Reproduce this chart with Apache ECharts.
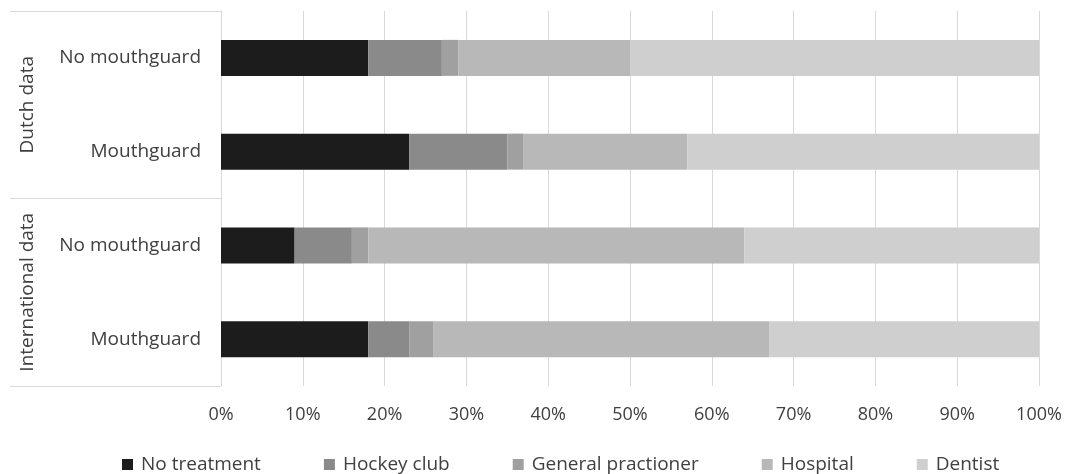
<!DOCTYPE html>
<html>
<head>
<meta charset="utf-8">
<script src="https://cdn.jsdelivr.net/npm/echarts@6/dist/echarts.min.js"></script>
<style>
  html, body { margin: 0; padding: 0; background: #fff; }
  #chart { width: 1068px; height: 474px; }
</style>
</head>
<body>
<div id="chart"></div>
<script>
// Rows, top to bottom
const categories = ['No mouthguard', 'Mouthguard', 'No mouthguard', 'Mouthguard'];
const groups = ['Dutch data', 'International data'];

// Share of injuries per place of first treatment (%)
const noTreatment = [18, 23, 9, 18];
const hockeyClub = [9, 12, 7, 5];
const generalPractioner = [2, 2, 2, 3];
const hospital = [21, 20, 46, 41];
const dentist = [50, 43, 36, 33];

const seriesNames = ['No treatment', 'Hockey club', 'General practioner', 'Hospital', 'Dentist'];
const seriesValues = [noTreatment, hockeyClub, generalPractioner, hospital, dentist];
const seriesColors = ['#1c1c1c', '#8a8a8a', '#a0a0a0', '#b8b8b8', '#cfcfcf'];

const FONT = '"Open Sans", "Liberation Sans", sans-serif';
const TEXT = '#404040';
const LINE = '#d9d9d9';

const chart = echarts.init(document.getElementById('chart'));

chart.setOption({
  animation: false,
  textStyle: { fontFamily: FONT, color: TEXT },
  grid: { left: 221, right: 29, top: 11, bottom: 88 },
  legend: {
    top: 450,
    left: 117,
    icon: 'rect',
    itemWidth: 11,
    itemHeight: 11,
    itemGap: 63,
    textStyle: { fontFamily: FONT, fontSize: 19, color: TEXT, padding: [0, 0, 0, 3] },
    data: seriesNames
  },
  xAxis: {
    type: 'value',
    min: 0,
    max: 100,
    interval: 10,
    axisLine: { show: false },
    axisTick: { show: false },
    splitLine: { show: true, lineStyle: { color: LINE, width: 1 } },
    axisLabel: {
      formatter: '{value}%',
      fontFamily: FONT,
      fontSize: 18,
      color: TEXT,
      margin: 20
    }
  },
  yAxis: [
    {
      type: 'category',
      data: categories,
      inverse: true,
      position: 'left',
      axisLine: { show: true, lineStyle: { color: LINE, width: 1 } },
      axisTick: { show: false },
      axisLabel: { interval: 0, fontFamily: FONT, fontSize: 19, color: TEXT, margin: 20 }
    },
    {
      // outer group axis: its boundary ticks draw the group separators
      type: 'category',
      data: groups,
      inverse: true,
      position: 'left',
      offset: 211,
      axisLine: { show: false },
      axisTick: {
        show: true,
        interval: 0,
        inside: true,
        length: 211,
        lineStyle: { color: LINE, width: 1 }
      },
      axisLabel: {
        interval: 0,
        hideOverlap: false,
        inside: true,
        rotate: 90,
        margin: 8,
        fontFamily: FONT,
        fontSize: 19,
        color: TEXT
      }
    }
  ],
  series: seriesNames.map((name, i) => ({
    name: name,
    type: 'bar',
    stack: 'total',
    yAxisIndex: 0,
    barWidth: 36,
    itemStyle: { color: seriesColors[i] },
    data: seriesValues[i]
  }))
});
</script>
</body>
</html>
